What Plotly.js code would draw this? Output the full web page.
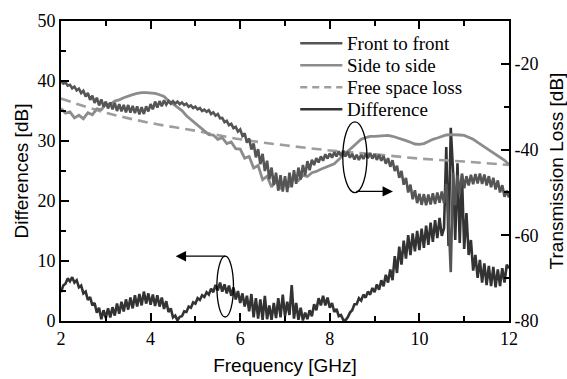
<!DOCTYPE html>
<html>
<head>
<meta charset="utf-8">
<script src="https://cdn.plot.ly/plotly-3.0.1.min.js"></script>
<style>html,body{margin:0;padding:0;background:#fff;}#chart{width:567px;height:379px;}</style>
</head>
<body>
<div id="chart"></div>
<script>
// Fine frequency grid [GHz] for the front-to-front and difference traces
const freqFine = [
  2.00,2.05,2.10,2.15,2.20,2.25,2.30,2.35,2.40,2.45,
  2.50,2.55,2.60,2.65,2.70,2.75,2.80,2.85,2.90,2.95,
  3.00,3.05,3.10,3.15,3.20,3.25,3.30,3.35,3.40,3.45,
  3.50,3.55,3.60,3.65,3.70,3.75,3.80,3.85,3.90,3.95,
  4.00,4.05,4.10,4.15,4.20,4.25,4.30,4.35,4.40,4.45,
  4.50,4.55,4.60,4.65,4.70,4.75,4.80,4.85,4.90,4.95,
  5.00,5.05,5.10,5.15,5.20,5.25,5.30,5.35,5.40,5.45,
  5.50,5.55,5.60,5.65,5.70,5.75,5.80,5.85,5.90,5.95,
  6.00,6.05,6.10,6.15,6.20,6.25,6.30,6.35,6.40,6.45,
  6.50,6.55,6.60,6.65,6.70,6.75,6.80,6.85,6.90,6.95,
  7.00,7.05,7.10,7.15,7.20,7.25,7.30,7.35,7.40,7.45,
  7.50,7.55,7.60,7.65,7.70,7.75,7.80,7.85,7.90,7.95,
  8.00,8.05,8.10,8.15,8.20,8.25,8.30,8.35,8.40,8.45,
  8.50,8.55,8.60,8.65,8.70,8.75,8.80,8.85,8.90,8.95,
  9.00,9.05,9.10,9.15,9.20,9.25,9.30,9.35,9.40,9.45,
  9.50,9.55,9.60,9.65,9.70,9.75,9.80,9.85,9.90,9.95,
  10.00,10.05,10.10,10.15,10.20,10.25,10.30,10.35,10.40,10.45,
  10.50,10.55,10.60,10.65,10.70,10.75,10.80,10.85,10.90,10.95,
  11.00,11.05,11.10,11.15,11.20,11.25,11.30,11.35,11.40,11.45,
  11.50,11.55,11.60,11.65,11.70,11.75,11.80,11.85,11.90,11.95,
  12.00
];

// Transmission loss, front to front [dB] (right axis)
const frontToFront = [
  -24.0,-24.6,-24.3,-25.1,-24.9,-25.7,-25.3,-26.2,-25.8,-26.8,
  -26.3,-27.6,-26.8,-28.4,-27.4,-29.1,-27.9,-29.7,-28.3,-30.0,
  -28.8,-30.4,-29.0,-30.6,-29.1,-31.0,-29.4,-31.1,-29.6,-31.3,
  -29.6,-31.4,-29.8,-31.5,-29.9,-31.8,-30.1,-31.7,-29.9,-31.1,
  -29.4,-30.6,-28.8,-30.2,-28.7,-29.9,-28.5,-29.5,-28.7,-29.3,
  -28.7,-29.3,-28.8,-29.4,-29.0,-29.6,-29.3,-30.0,-29.7,-30.3,
  -30.0,-30.6,-30.3,-31.0,-30.7,-31.2,-30.8,-31.7,-31.3,-32.1,
  -31.7,-32.7,-32.6,-33.6,-33.3,-34.3,-34.0,-35.0,-34.7,-35.8,
  -35.3,-36.8,-36.2,-38.4,-37.4,-40.0,-38.6,-41.8,-39.9,-43.4,
  -41.0,-45.0,-42.6,-46.9,-44.2,-48.3,-45.4,-49.6,-46.0,-49.8,
  -46.2,-49.9,-45.4,-48.8,-44.8,-48.0,-44.2,-47.0,-43.6,-46.0,
  -42.7,-44.8,-42.4,-43.6,-42.0,-43.0,-41.6,-42.6,-41.1,-42.1,
  -40.9,-41.9,-40.6,-41.6,-40.4,-41.5,-40.3,-41.6,-40.5,-41.9,
  -41.0,-42.3,-41.2,-42.4,-41.2,-42.2,-41.0,-42.0,-40.8,-42.1,
  -41.0,-42.4,-41.2,-42.6,-41.5,-43.3,-42.0,-44.0,-42.5,-45.0,
  -43.8,-46.6,-45.0,-48.2,-46.6,-50.0,-48.2,-51.6,-49.5,-52.5,
  -50.3,-52.9,-50.4,-53.0,-50.5,-52.8,-50.2,-52.7,-50.0,-52.4,
  -49.8,-52.5,-48.0,-56.0,-68.6,-45.5,-53.0,-46.0,-50.5,-45.6,
  -49.0,-46.2,-48.4,-45.9,-48.1,-45.7,-47.9,-45.6,-48.0,-45.8,
  -48.4,-46.2,-48.8,-46.6,-49.3,-47.2,-50.0,-48.3,-51.0,-49.6,
  -51.2
];

// Difference [dB] (left axis)
const difference = [
  4.8,5.9,6.2,7.1,6.6,7.3,6.4,6.8,5.6,5.9,
  4.6,4.9,3.5,4.0,2.6,3.0,1.4,2.2,0.3,1.8,
  0.5,2.1,0.6,2.3,0.9,2.9,1.2,3.2,1.6,3.6,
  1.9,3.9,2.1,4.3,2.4,4.5,2.6,4.9,2.9,4.6,
  2.7,4.4,2.5,4.3,2.4,3.9,2.0,3.3,1.5,2.1,
  0.6,0.9,0.1,0.7,0.8,1.6,1.5,2.4,2.2,3.1,
  2.9,3.8,3.5,4.3,4.0,4.8,4.4,5.4,4.8,6.0,
  5.1,6.4,4.9,6.1,4.6,5.9,4.2,5.6,3.6,5.0,
  3.0,4.6,2.4,4.2,1.6,4.5,0.6,3.8,0.4,3.6,
  0.2,4.2,0.3,2.6,0.2,3.0,0.5,3.8,0.6,4.4,
  0.8,3.2,1.0,6.0,0.4,3.0,0.2,2.2,0.1,1.4,
  0.3,1.8,0.8,2.8,1.8,3.8,2.6,4.2,2.6,3.9,
  2.2,3.0,1.5,2.0,0.8,1.0,0.2,0.1,0.6,1.4,
  1.8,2.8,2.8,3.8,3.4,4.4,3.9,4.9,4.4,5.5,
  4.8,6.1,5.2,6.8,5.8,7.7,6.4,8.6,6.8,10.8,
  8.0,12.4,9.4,13.4,10.4,14.3,11.0,14.6,11.6,15.0,
  11.8,15.4,12.2,15.9,12.7,16.4,13.2,16.8,13.8,17.2,
  14.2,15.5,29.0,12.5,32.2,25.1,13.5,26.3,13.0,24.3,
  12.0,18.0,11.0,13.5,8.4,11.0,7.2,10.2,6.4,9.6,
  6.0,9.2,5.8,9.0,5.6,8.6,5.8,8.8,6.4,9.4,
  8.8
];

// Coarse grid [GHz] for the side-to-side trace
const freqCoarse = [
  2.0,2.1,2.2,2.3,2.4,2.5,2.6,2.7,2.8,2.9,
  3.0,3.1,3.2,3.3,3.4,3.5,3.6,3.7,3.8,3.9,
  4.0,4.1,4.2,4.3,4.4,4.5,4.6,4.7,4.8,4.9,
  5.0,5.1,5.2,5.3,5.4,5.5,5.6,5.7,5.8,5.9,
  6.0,6.1,6.2,6.3,6.4,6.5,6.6,6.7,6.8,6.9,
  7.0,7.1,7.2,7.3,7.4,7.5,7.6,7.7,7.8,7.9,
  8.0,8.1,8.2,8.3,8.4,8.5,8.6,8.7,8.8,8.9,
  9.0,9.1,9.2,9.3,9.4,9.5,9.6,9.7,9.8,9.9,
  10.0,10.1,10.2,10.3,10.4,10.5,10.6,10.7,10.8,10.9,
  11.0,11.1,11.2,11.3,11.4,11.5,11.6,11.7,11.8,11.9,
  12.0
];

// Transmission loss, side to side [dB] (right axis)
const sideToSide = [
  -30.4,-31.5,-31.2,-32.6,-32.0,-32.8,-31.4,-31.9,-30.5,-30.7,
  -29.4,-29.5,-28.7,-28.4,-27.9,-27.5,-27.2,-26.9,-26.7,-26.7,
  -26.8,-26.9,-27.2,-27.6,-28.6,-29.3,-30.0,-30.9,-32.1,-33.0,
  -33.9,-34.8,-35.8,-36.5,-36.6,-37.6,-37.2,-38.6,-38.2,-39.8,
  -39.9,-42.0,-41.6,-44.3,-43.7,-47.0,-46.2,-48.7,-47.3,-48.9,
  -47.2,-48.4,-46.7,-47.2,-46.0,-46.3,-45.4,-45.1,-44.6,-44.2,
  -43.7,-43.3,-42.3,-41.4,-40.4,-39.5,-38.6,-37.6,-37.2,-36.9,
  -36.9,-36.8,-36.7,-36.7,-36.9,-37.2,-37.5,-37.9,-38.3,-38.7,
  -38.8,-38.6,-38.1,-37.6,-37.3,-36.9,-36.6,-36.5,-36.5,-36.6,
  -36.7,-37.2,-37.6,-38.3,-39.0,-39.8,-40.4,-41.1,-41.8,-42.5,
  -43.5
];

// Free space loss [dB] (right axis)
const fslFreq = [2,3,4,5,6,7,8,9,10,11,12];
const freeSpaceLoss = [-28.1,-31.4,-33.8,-35.6,-37.6,-39.0,-40.2,-41.1,-42.1,-42.8,-43.6];

// Tick labels
const xTicks = [2,4,6,8,10,12];
const xMinor = [3,5,7,9,11];
const yTicks = [0,10,20,30,40,50];
const yMinor = [5,15,25,35,45];
const y2Ticks = [-80,-60,-40,-20];
const y2TickText = ['-80','-60','-40','-20'];
const y2Minor = [-70,-50,-30];

const legendNames = ['Front to front','Side to side','Free space loss','Difference'];
const colors = {front:'#555555', side:'#8c8c8c', fsl:'#9e9e9e', diff:'#333333'};

const traces = [
  {x: fslFreq, y: freeSpaceLoss, yaxis:'y2', mode:'lines', name: legendNames[2],
   line:{color:colors.fsl, width:2.6, dash:'10px,6px', shape:'spline'}},
  {x: freqCoarse, y: sideToSide, yaxis:'y2', mode:'lines', name: legendNames[1],
   line:{color:colors.side, width:2.8}},
  {x: freqFine, y: frontToFront, yaxis:'y2', mode:'lines', name: legendNames[0],
   line:{color:colors.front, width:2.6}},
  {x: freqFine, y: difference, yaxis:'y', mode:'lines', name: legendNames[3],
   line:{color:colors.diff, width:2.6}}
];

const serif = 'Liberation Serif, Times New Roman, serif';
const sans = 'Liberation Sans, Arial, sans-serif';

const axisCommon = {
  showgrid:false, zeroline:false, showline:true, linecolor:'#000', linewidth:2,
  ticks:'inside', ticklen:8, tickwidth:2, tickcolor:'#000',
  tickfont:{family:serif, size:18, color:'#000'}
};

// Legend drawn at top right
const legendYs = [0.9257, 0.8523, 0.779, 0.7057];
const legendColors = [colors.front, colors.side, colors.fsl, colors.diff];
const legendDash = ['solid','solid','7px,5px','solid'];
const shapes = [];
const annotations = [];
legendNames.forEach((n,i)=>{
  shapes.push({type:'line', xref:'paper', yref:'paper', x0:0.534, x1:0.628, y0:legendYs[i], y1:legendYs[i],
    line:{color:legendColors[i], width:2.6, dash:legendDash[i]}});
  annotations.push({xref:'paper', yref:'paper', x:0.634, y:legendYs[i], xanchor:'left', yanchor:'middle',
    text:n, showarrow:false, font:{family:serif, size:19, color:'#000'}});
});

// Ellipses marking the curve groups
shapes.push({type:'circle', xref:'x', yref:'y', x0:8.29, x1:8.83, y0:21.4, y1:33.2, line:{color:'#000', width:1.3}});
shapes.push({type:'circle', xref:'x', yref:'y', x0:5.48, x1:5.85, y0:0.67, y1:10.8, line:{color:'#000', width:1.3}});
// Arrows pointing to axes
annotations.push({x:9.41, y:21.6, ax:8.56, ay:21.6, axref:'x', ayref:'y', xref:'x', yref:'y',
  showarrow:true, arrowhead:2, arrowsize:1.6, arrowwidth:1.3, arrowcolor:'#000', text:''});
annotations.push({x:4.56, y:10.8, ax:5.70, ay:10.8, axref:'x', ayref:'y', xref:'x', yref:'y',
  showarrow:true, arrowhead:2, arrowsize:1.6, arrowwidth:1.3, arrowcolor:'#000', text:''});

const layout = {
  width:567, height:379,
  margin:{l:61, r:58, t:21, b:58},
  paper_bgcolor:'#fff', plot_bgcolor:'#fff',
  showlegend:false,
  xaxis: Object.assign({}, axisCommon, {
    range:[2,12], tickmode:'array', tickvals:xTicks, mirror:'ticks',
    minor:{tickmode:'array', tickvals:xMinor, ticks:'inside', ticklen:5, tickwidth:2, tickcolor:'#000'},
    title:{text:'Frequency [GHz]', font:{family:sans, size:19, color:'#000'}, standoff:11}
  }),
  yaxis: Object.assign({}, axisCommon, {
    range:[0,50], tickmode:'array', tickvals:yTicks,
    minor:{tickmode:'array', tickvals:yMinor, ticks:'inside', ticklen:5, tickwidth:2, tickcolor:'#000'},
    title:{text:'Differences [dB]', font:{family:sans, size:19, color:'#000'}, standoff:4}
  }),
  yaxis2: Object.assign({}, axisCommon, {
    overlaying:'y', side:'right',
    range:[-80,-10], tickmode:'array', tickvals:y2Ticks, ticktext:y2TickText,
    minor:{tickmode:'array', tickvals:y2Minor, ticks:'inside', ticklen:5, tickwidth:2, tickcolor:'#000'},
    title:{text:'Transmission Loss [dB]', font:{family:sans, size:19, color:'#000'}, standoff:12}
  }),
  shapes: shapes,
  annotations: annotations
};

Plotly.newPlot('chart', traces, layout, {staticPlot:true, displayModeBar:false});
</script>
</body>
</html>
